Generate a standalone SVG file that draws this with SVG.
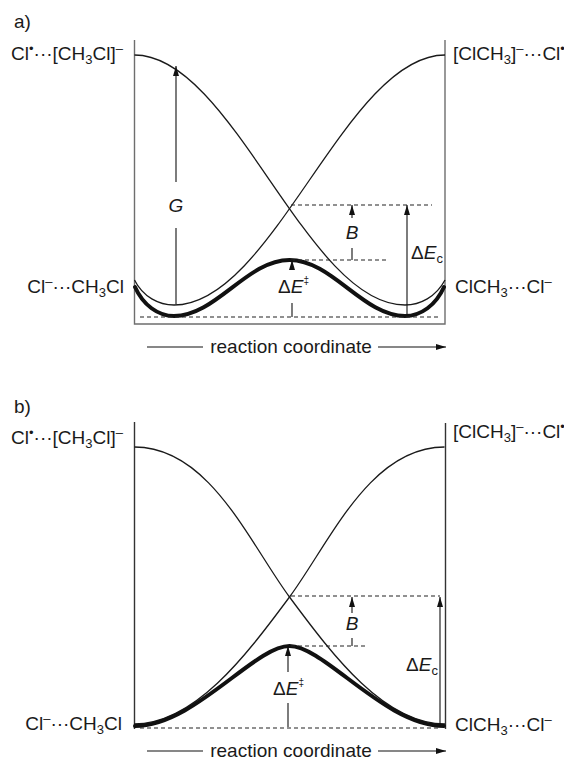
<svg xmlns="http://www.w3.org/2000/svg" width="564" height="762" viewBox="0 0 564 762">
<defs>
<style>
text{font-family:"Liberation Sans",Arial,sans-serif;font-size:19px;fill:#1a1a1a}
.it{font-style:italic}
.sub{font-size:13px}
.sup{font-size:13px}
.dag{font-size:10px}
.rad{font-size:13px}
.box{stroke:#6e6e6e;stroke-width:1.4;fill:none}
.boxb{stroke:#333;stroke-width:1.4;fill:none}
.thin{stroke:#1a1a1a;stroke-width:1.3;fill:none}
.thick{stroke:#111;stroke-width:4;fill:none;stroke-linecap:round}
.dash{stroke:#222;stroke-width:1.1;stroke-dasharray:4 3;fill:none}
.arr{stroke:#111;stroke-width:1.1;fill:none}
</style>
<marker id="ah" viewBox="0 0 10 6" refX="10" refY="3" markerWidth="10" markerHeight="6" markerUnits="userSpaceOnUse" orient="auto"><path d="M0,0 L10,3 L0,6 z" fill="#111"/></marker>
</defs>

<!-- Panel a -->
<g id="panel-a">
<text x="14" y="28">a)</text>
<g id="a-frame"><path class="box" d="M134.5,40 V324 H445 V40"/></g>
<g id="a-labels">
<text x="123" y="60" text-anchor="end">Cl<tspan class="rad" dy="-7">•</tspan><tspan dy="7">···[CH</tspan><tspan class="sub" dy="4">3</tspan><tspan dy="-4">Cl]</tspan><tspan class="sup" dy="-7">–</tspan></text>
<text x="453" y="60">[ClCH<tspan class="sub" dy="4">3</tspan><tspan dy="-4">]</tspan><tspan class="sup" dy="-7">–</tspan><tspan dy="7">···Cl</tspan><tspan class="rad" dy="-7">•</tspan></text>
<text x="124" y="293" text-anchor="end">Cl<tspan class="sup" dy="-7">–</tspan><tspan dy="7">···CH</tspan><tspan class="sub" dy="4">3</tspan><tspan dy="-4">Cl</tspan></text>
<text x="455" y="293">ClCH<tspan class="sub" dy="4">3</tspan><tspan dy="-4">···Cl</tspan><tspan class="sup" dy="-7">–</tspan></text>
</g>
<g id="a-curves">
<path class="thin" d="M134.5,55 C232.7,55 306.3,305 405,305 C420,305 436,297 445,280"/>
<path class="thin" d="M445,55 C346.3,55 272.7,305 174,305 C159,305 143,297 134.5,280"/>
<path class="thick" d="M135,287 C143,305 158,316 174,316 C216,316 247,260 289.5,260 C332,260 363,316 405,316 C421,316 436,305 444,287"/>
</g>
<g id="a-guides">
<path class="dash" d="M291,205 H432"/>
<path class="dash" d="M291,260 H386"/>
<path class="dash" d="M140,317 H441"/>
</g>
<g id="a-arrows">
<path class="arr" d="M176,304 V228"/>
<path class="arr" d="M176,182 V66" marker-end="url(#ah)"/>
<text class="it" x="176" y="212" text-anchor="middle">G</text>
<path class="arr" d="M352,218 V205" marker-end="url(#ah)"/>
<path class="arr" d="M352,248 V260"/>
<text class="it" x="352" y="239" text-anchor="middle">B</text>
<path class="arr" d="M407,316 V205" marker-end="url(#ah)"/>
<text x="411" y="259">Δ<tspan class="it">E</tspan><tspan class="sub" dy="4">c</tspan></text>
<path class="arr" d="M292,269 V260" marker-end="url(#ah)"/>
<path class="arr" d="M292,303 V317"/>
<text x="278" y="293">Δ<tspan class="it">E</tspan><tspan class="dag" dy="-9">‡</tspan></text>
</g>
<g id="a-axis">
<path class="arr" d="M147,347 H203"/>
<text x="291" y="353" text-anchor="middle">reaction coordinate</text>
<path class="arr" d="M378,347 H446" marker-end="url(#ah)"/>
</g>
</g>

<!-- Panel b -->
<g id="panel-b">
<text x="14" y="413">b)</text>
<g id="b-frame"><path class="boxb" d="M134.5,422 V729 M445.5,423 V729"/></g>
<g id="b-labels">
<text x="123" y="444" text-anchor="end">Cl<tspan class="rad" dy="-7">•</tspan><tspan dy="7">···[CH</tspan><tspan class="sub" dy="4">3</tspan><tspan dy="-4">Cl]</tspan><tspan class="sup" dy="-7">–</tspan></text>
<text x="453" y="438">[ClCH<tspan class="sub" dy="4">3</tspan><tspan dy="-4">]</tspan><tspan class="sup" dy="-7">–</tspan><tspan dy="7">···Cl</tspan><tspan class="rad" dy="-7">•</tspan></text>
<text x="122" y="730" text-anchor="end">Cl<tspan class="sup" dy="-7">–</tspan><tspan dy="7">···CH</tspan><tspan class="sub" dy="4">3</tspan><tspan dy="-4">Cl</tspan></text>
<text x="455" y="731">ClCH<tspan class="sub" dy="4">3</tspan><tspan dy="-4">···Cl</tspan><tspan class="sup" dy="-7">–</tspan></text>
</g>
<g id="b-curves">
<path class="thin" d="M134.5,447 C209.5,447 249.5,543 289.5,597 C334.5,657.75 385,724 445,724"/>
<path class="thin" d="M444.5,447 C369.5,447 329.5,543 289.5,597 C244.5,657.75 194,724 134,724"/>
<path class="thick" d="M135,726 C194,726 254.5,646 289.5,646 C324.5,646 385,726 444,726"/>
</g>
<g id="b-guides">
<path class="dash" d="M291,596 H440"/>
<path class="dash" d="M291,646 H366"/>
<path class="dash" d="M140,728 H441"/>
</g>
<g id="b-arrows">
<path class="arr" d="M352,613 V597" marker-end="url(#ah)"/>
<path class="arr" d="M352,638 V646"/>
<text class="it" x="352" y="630" text-anchor="middle">B</text>
<path class="arr" d="M440,727 V597" marker-end="url(#ah)"/>
<text x="406" y="671">Δ<tspan class="it">E</tspan><tspan class="sub" dy="4">c</tspan></text>
<path class="arr" d="M288,672 V646" marker-end="url(#ah)"/>
<path class="arr" d="M288,703 V727"/>
<text x="273" y="695">Δ<tspan class="it">E</tspan><tspan class="dag" dy="-9">‡</tspan></text>
</g>
<g id="b-axis">
<path class="arr" d="M147,751 H203"/>
<text x="291" y="757" text-anchor="middle">reaction coordinate</text>
<path class="arr" d="M378,751 H446" marker-end="url(#ah)"/>
</g>
</g>
</svg>
